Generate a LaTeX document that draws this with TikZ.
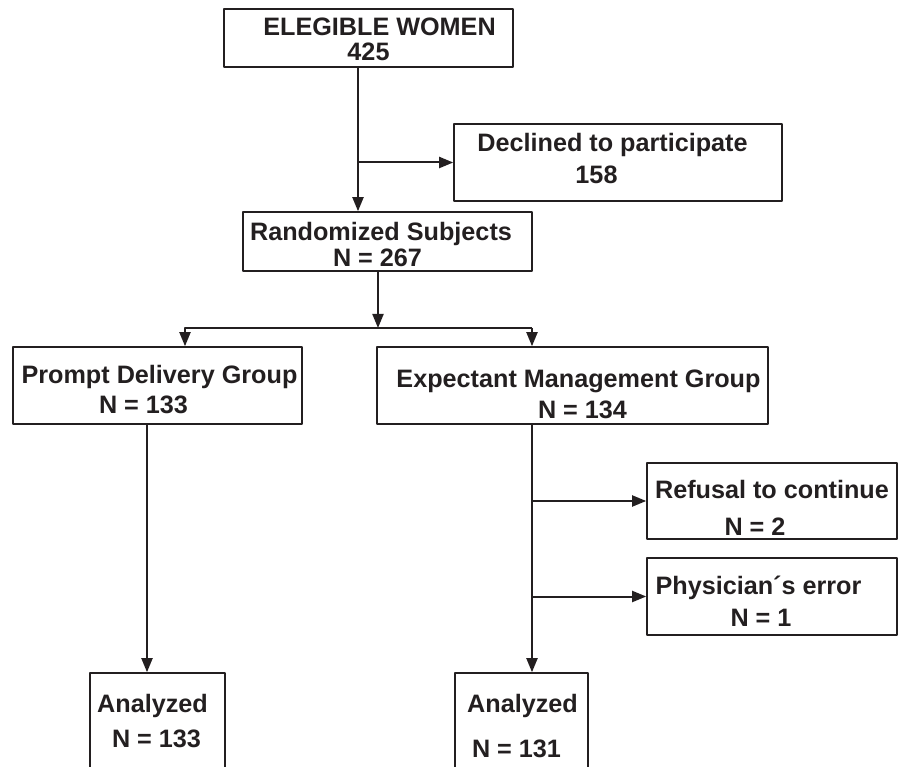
\documentclass[tikz,border=0pt]{standalone}
\usepackage{fontspec}
\setmainfont{Liberation Sans}
\usetikzlibrary{arrows.meta}
\definecolor{ink}{RGB}{35,31,32}
% one line of a box, moved sideways by #1 (pt) from the box centre
\newcommand\mvline[2]{\makebox[0pt]{\kern#1pt\kern#1pt #2}}
% invisible strut: pushes the text of a box down
\newcommand\pushdn[1]{\rule{0pt}{#1pt}}
\tikzset{
  box/.style={draw=ink, line width=1.6pt, inner sep=0pt, align=center, text=ink},
  arr/.style={draw=ink, line width=2pt, -{Triangle[length=14pt,width=11pt]}},
}
\begin{document}
\begin{tikzpicture}[x=1pt,y=-1pt,
  font=\bfseries\fontsize{25.2}{25.5}\selectfont, line join=round]
\clip (0,0) rectangle (903,767);
% boxes
\node[box, minimum width=289, minimum height=58] (elig) at (368.5,38)
  {\pushdn{20}\mvline{11}{ELEGIBLE WOMEN}\\\mvline{0}{425}};
\node[box, minimum width=328, minimum height=77] (decl) at (618,162.5)
  {\mvline{-5.5}{Declined to participate}\\[6pt]\mvline{-21.5}{158}\rule[-8pt]{0pt}{8pt}};
\node[box, minimum width=289, minimum height=59] (rand) at (387.5,241.5)
  {\pushdn{24}\mvline{-6.5}{Randomized Subjects}\\\mvline{-10}{N = 267}};
\node[box, minimum width=289, minimum height=77] (prompt) at (157.5,385.5)
  {\pushdn{26}\mvline{2}{Prompt Delivery Group}\\[5pt]\mvline{-14}{N = 133}};
\node[box, minimum width=391, minimum height=77] (expect) at (572.5,385.5)
  {\pushdn{35}\mvline{6}{Expectant Management Group}\\[5pt]\mvline{10}{N = 134}};
\node[box, minimum width=250, minimum height=76] (refus) at (772,501)
  {\pushdn{32}\mvline{0}{Refusal to continue}\\[11.5pt]\mvline{-17}{N = 2}};
\node[box, minimum width=250, minimum height=77] (phys) at (772,596.5)
  {\pushdn{28}\mvline{-13.5}{Physician´s error}\\[6.5pt]\mvline{-11}{N = 1}};
\node[box, minimum width=135, minimum height=96] (anaL) at (157.5,721)
  {\mvline{-5}{Analyzed}\\[9.5pt]\mvline{-1}{N = 133}};
\node[box, minimum width=133, minimum height=106] (anaR) at (521.5,726)
  {\mvline{1}{Analyzed}\\[19.5pt]\mvline{-5}{N = 131}};
% where the lines run
\coordinate (mainx) at (358,0);
\coordinate (split) at (378,328);
\coordinate (lbr) at (185,328);
\coordinate (rbr) at (532,328);
\coordinate (ldrop) at (147,0);
% connectors
\draw[arr] (elig.south -| mainx) -- (rand.north -| mainx);
\draw[arr] (decl.west -| mainx) -- (decl.west);
\draw[arr] (rand.south -| split) -- (split);
\draw[arr] (rbr) -- (lbr) -- (prompt.north -| lbr);
\draw[arr] (rbr) -- (expect.north -| rbr);
\draw[arr] (prompt.south -| ldrop) -- (anaL.north -| ldrop);
\draw[arr] (expect.south -| rbr) -- (anaR.north -| rbr);
\draw[arr] (refus.west -| rbr) -- (refus.west);
\draw[arr] (phys.west -| rbr) -- (phys.west);
\end{tikzpicture}
\end{document}
